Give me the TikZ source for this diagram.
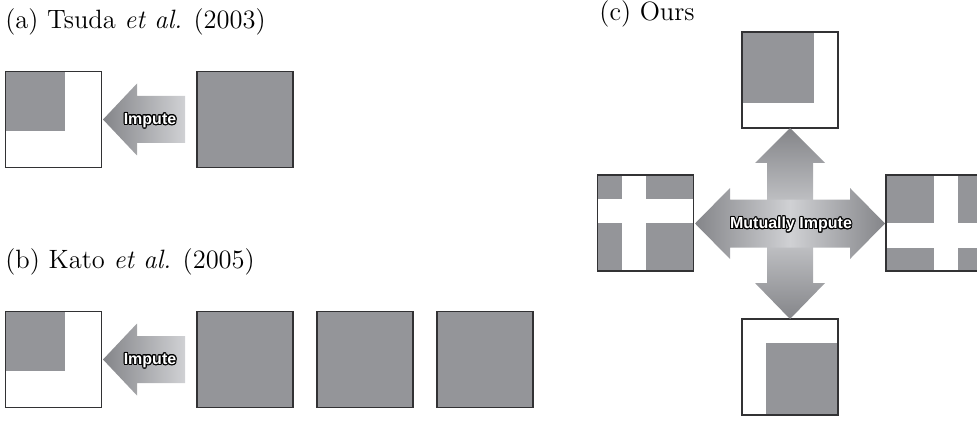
\documentclass[tikz,border=0pt]{standalone}
\usepackage{fontspec}
\setsansfont{Liberation Sans}
\usepackage{contour}
\usetikzlibrary{shapes.geometric}
\definecolor{cellgray}{RGB}{148, 149, 153}
\definecolor{framegray}{RGB}{50, 50, 52}
\definecolor{arrowdark}{RGB}{132, 133, 137}
\definecolor{arrowlight}{RGB}{208, 209, 212}
\contourlength{0.5pt}
\tikzstyle{matbox} = [draw=framegray, line width=0.7pt, minimum size=48pt, inner sep=0pt]
\tikzstyle{fullbox} = [matbox, fill=cellgray]
\tikzstyle{caption} = [anchor=base west, inner sep=0pt, font=\fontsize{13.25}{16}\selectfont]
\tikzstyle{imputetext} = [text=white, inner sep=0pt, font=\fontsize{8}{9}\selectfont\sffamily\bfseries]

\begin{document}
\begin{tikzpicture}[x=0.5pt, y=-0.5pt]
        \clip (0,0) rectangle (977,422);

        % (a) Tsuda et al.
        \node (capA) at (5,28.5) [caption] {(a) Tsuda \textit{et al.} (2003)};
        \fill [cellgray] (5.5,71.5) rectangle (65,131);
        \node (tsudaOut) at (53.5,119.5) [matbox] {};
        \node (tsudaIn) at (245,119.5) [fullbox] {};
        \shade [left color=arrowdark, right color=arrowlight]
            (103,119.5) -- (137,83.5) -- (137,96) -- (185,96)
            -- (185,143) -- (137,143) -- (137,155.5) -- cycle;
        \node (tsudaLbl) at (150,121) [imputetext] {\contour{black}{Impute}};

        % (b) Kato et al.
        \node (capB) at (5,268.5) [caption] {(b) Kato \textit{et al.} (2005)};
        \fill [cellgray] (5.5,311.5) rectangle (65,371);
        \node (katoOut) at (53.5,359.5) [matbox] {};
        \node (katoInA) at (245,359.5) [fullbox] {};
        \node (katoInB) at (365,359.5) [fullbox] {};
        \node (katoInC) at (485,359.5) [fullbox] {};
        \shade [left color=arrowdark, right color=arrowlight]
            (103,359.5) -- (137,323.5) -- (137,336) -- (185,336)
            -- (185,383) -- (137,383) -- (137,395.5) -- cycle;
        \node (katoLbl) at (150,361) [imputetext] {\contour{black}{Impute}};

        % (c) Ours
        \node (capC) at (599,20.5) [caption] {(c) Ours};

        % Blocks round the cross
        \fill [cellgray] (742,32) rectangle (814,103);
        \node (oursTop) at (790,80) [matbox] {};
        \fill [cellgray] (766,343) rectangle (838,415);
        \node (oursBot) at (790,367) [matbox] {};
        \fill [cellgray] (597.5,175) rectangle (693.5,271);
        \fill [white] (622,175) rectangle (646,271);
        \fill [white] (597.5,199) rectangle (693.5,223);
        \node (oursLeft) at (645.5,223) [matbox] {};
        \fill [cellgray] (886,175) rectangle (982,271);
        \fill [white] (934,175) rectangle (958,271);
        \fill [white] (886,223) rectangle (982,248);
        \node (oursRight) at (934,223) [matbox] {};

        % Cross of arrows
        \shade [top color=arrowdark, bottom color=arrowdark, middle color=arrowlight]
            (790,128) -- (825,163) -- (813,163) -- (813,283) -- (825,283)
            -- (790,319) -- (755,283) -- (767,283) -- (767,163) -- (755,163) -- cycle;
        \shade [left color=arrowdark, right color=arrowdark, middle color=arrowlight]
            (695,223.5) -- (730,188) -- (730,199.5) -- (850,199.5) -- (850,188)
            -- (885,223.5) -- (850,259) -- (850,247.5) -- (730,247.5) -- (730,259) -- cycle;
        \node (oursLbl) at (791,225) [imputetext] {\contour{black}{Mutually Impute}};
\end{tikzpicture}
\end{document}
